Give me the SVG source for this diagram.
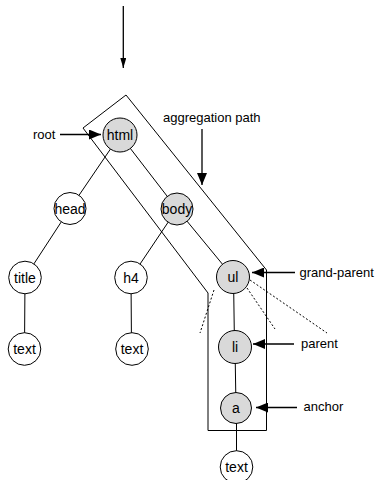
<svg xmlns="http://www.w3.org/2000/svg" width="377" height="480" viewBox="0 0 377 480">
  <style>
    .node { stroke: #000; stroke-width: 1; }
    .plain { fill: #fff; }
    .path { fill: #d9d9d9; }
    .lbl { font-family: "Liberation Sans", Arial, sans-serif; font-size: 14px; fill: #000; text-anchor: middle; }
    .note { font-family: "Liberation Sans", Arial, sans-serif; font-size: 13px; fill: #000; }
    .edge { stroke: #000; stroke-width: 1; fill: none; }
    .dot { stroke: #000; stroke-width: 1; stroke-dasharray: 2,2; fill: none; }
    .ptr { stroke: #000; stroke-width: 1.3; fill: none; }
  </style>
  <defs>
    <marker id="head" viewBox="0 0 12 10" refX="12" refY="5" markerWidth="12" markerHeight="10" markerUnits="userSpaceOnUse" orient="auto">
      <path d="M0,0 L12,5 L0,10 Z" fill="#000"/>
    </marker>
    <marker id="thin" viewBox="0 0 10 6" refX="10" refY="3" markerWidth="10" markerHeight="6" markerUnits="userSpaceOnUse" orient="auto">
      <path d="M0,0 L10,3 L0,6 Z" fill="#000"/>
    </marker>
  </defs>

  <!-- aggregation path outline -->
  <g id="aggregation-outline">
    <path class="edge" d="M126,95 L266.5,270 L266.5,430.5 L208,430.5 L208,293 L83,128 Z"/>
  </g>

  <!-- tree edges, pointers and dotted hints -->
  <g id="connectors">
    <line class="edge" x1="120" y1="135" x2="70" y2="208.5"/>
    <line class="edge" x1="120" y1="135" x2="177" y2="209"/>
    <line class="edge" x1="70" y1="208.5" x2="25" y2="277.5"/>
    <line class="edge" x1="177" y1="209" x2="131" y2="277.5"/>
    <line class="edge" x1="177" y1="209" x2="233" y2="277"/>
    <line class="edge" x1="25" y1="277.5" x2="24.5" y2="349"/>
    <line class="edge" x1="131" y1="277.5" x2="131.5" y2="349"/>
    <line class="edge" x1="233.5" y1="277" x2="234.5" y2="347"/>
    <line class="edge" x1="235" y1="347" x2="236" y2="408"/>
    <line class="edge" x1="236.5" y1="408" x2="236.5" y2="467"/>

    <line class="dot" x1="214" y1="290" x2="200" y2="333"/>
    <line class="dot" x1="247" y1="288" x2="275" y2="329"/>
    <line class="dot" x1="250" y1="280" x2="327" y2="333"/>

    <line class="ptr" x1="123.3" y1="6" x2="123.3" y2="68" marker-end="url(#thin)"/>
    <line class="ptr" x1="60" y1="134.5" x2="101" y2="134.5" marker-end="url(#head)"/>
    <line class="ptr" x1="202" y1="129" x2="202" y2="185" marker-end="url(#head)"/>
    <line class="ptr" x1="295" y1="272.5" x2="252" y2="272.5" marker-end="url(#head)"/>
    <line class="ptr" x1="294" y1="344" x2="253" y2="344" marker-end="url(#head)"/>
    <line class="ptr" x1="297" y1="407.5" x2="256" y2="407.5" marker-end="url(#head)"/>
  </g>

  <g id="node-html"><circle class="node path" cx="120" cy="135" r="17"/><text class="lbl" x="120" y="140">html</text></g>
  <g id="node-head"><circle class="node plain" cx="70" cy="208.5" r="16"/><text class="lbl" x="70" y="213.5">head</text></g>
  <g id="node-body"><circle class="node path" cx="177" cy="209" r="16"/><text class="lbl" x="177" y="214">body</text></g>
  <g id="node-title"><circle class="node plain" cx="25" cy="277.5" r="16.3"/><text class="lbl" x="25" y="282.5">title</text></g>
  <g id="node-h4"><circle class="node plain" cx="131" cy="277.5" r="16.3"/><text class="lbl" x="131" y="282.5">h4</text></g>
  <g id="node-ul"><circle class="node path" cx="233" cy="277" r="16.5"/><text class="lbl" x="233" y="282">ul</text></g>
  <g id="node-text1"><circle class="node plain" cx="24.5" cy="349" r="16.3"/><text class="lbl" x="24.5" y="354">text</text></g>
  <g id="node-text2"><circle class="node plain" cx="132" cy="349" r="16.3"/><text class="lbl" x="132" y="354">text</text></g>
  <g id="node-li"><circle class="node path" cx="235" cy="347" r="16.5"/><text class="lbl" x="235" y="352">li</text></g>
  <g id="node-a"><circle class="node path" cx="236" cy="408" r="15.5"/><text class="lbl" x="236" y="413">a</text></g>
  <g id="node-text3"><circle class="node plain" cx="236.5" cy="467" r="16.3"/><text class="lbl" x="236.5" y="472">text</text></g>

  <g id="labels">
    <text class="note" x="33" y="139">root</text>
    <text class="note" x="163" y="122">aggregation path</text>
    <text class="note" x="299.5" y="277">grand-parent</text>
    <text class="note" x="301" y="348">parent</text>
    <text class="note" x="303.5" y="411">anchor</text>
  </g>
</svg>
